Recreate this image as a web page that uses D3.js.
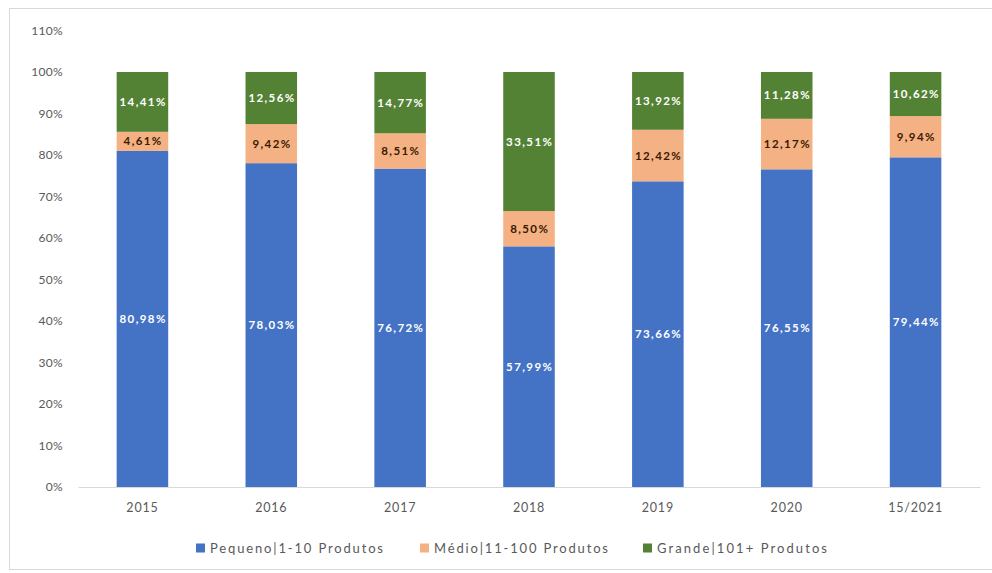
<!DOCTYPE html>
<html>
<head>
<meta charset="utf-8">
<script src="https://cdn.jsdelivr.net/npm/d3@7"></script>
<style>
  html, body { margin: 0; padding: 0; background: #fff; }
  svg { display: block; font-family: Lato, "Open Sans", sans-serif; }
</style>
</head>
<body>
<svg id="chart" width="992" height="573"></svg>
<script>
// Share of sellers by catalogue size, per year
const years = ["2015", "2016", "2017", "2018", "2019", "2020", "15/2021"];
const pequeno = [80.98, 78.03, 76.72, 57.99, 73.66, 76.55, 79.44];
const medio   = [4.61, 9.42, 8.51, 8.50, 12.42, 12.17, 9.94];
const grande  = [14.41, 12.56, 14.77, 33.51, 13.92, 11.28, 10.62];
const seriesNames = ["Pequeno|1-10 Produtos", "Médio|11-100 Produtos", "Grande|101+ Produtos"];
const yTicks = [0, 10, 20, 30, 40, 50, 60, 70, 80, 90, 100, 110];

const colors = ["#4472C4", "#F4B183", "#548235"];
const labelColors = ["#ffffff", "#3a1a00", "#ffffff"];

const rows = years.map((y, i) => ({ year: y, s0: pequeno[i], s1: medio[i], s2: grande[i] }));
const keys = ["s0", "s1", "s2"];
const stacked = d3.stack().keys(keys)(rows);

const svg = d3.select("#chart");

// outer frame
svg.append("rect")
  .attr("x", 9.5).attr("y", 8.5)
  .attr("width", 1000).attr("height", 561)
  .attr("fill", "none").attr("stroke", "#d9d9d9");

const x = d3.scaleBand().domain(years).range([78, 980]).paddingInner(0.6).paddingOuter(0.3);
const y = d3.scaleLinear().domain([0, 110]).range([487, 30.5]);

// y axis labels
const yAxis = svg.append("g").attr("transform", "translate(63,0)")
  .call(d3.axisLeft(y).tickValues(yTicks).tickFormat(d => d + "%").tickSize(0).tickPadding(0));
yAxis.select(".domain").remove();
yAxis.selectAll("text").attr("fill", "#595959").style("font-size", "12px")
  .style("letter-spacing", "0.3px")
  .style("font-family", "Lato, 'Open Sans', sans-serif");

// bars
const layer = svg.append("g").selectAll("g").data(stacked).join("g")
  .attr("fill", (d, i) => colors[i]);
layer.selectAll("rect").data(d => d).join("rect")
  .attr("x", d => x(d.data.year))
  .attr("width", x.bandwidth())
  .attr("y", d => y(d[1]))
  .attr("height", d => y(d[0]) - y(d[1]));

// value labels
const fmt = v => v.toFixed(2).replace(".", ",") + "%";
const lbl = svg.append("g").selectAll("g").data(stacked).join("g")
  .attr("fill", (d, i) => labelColors[i]);
lbl.selectAll("text").data(d => d.map(p => ({ p, key: d.key }))).join("text")
  .attr("x", d => x(d.p.data.year) + x.bandwidth() / 2 + 0.7)
  .attr("y", d => y((d.p[0] + d.p[1]) / 2))
  .attr("dy", "0.35em")
  .attr("text-anchor", "middle")
  .style("font-size", "11.5px")
  .style("font-weight", "bold")
  .style("letter-spacing", "1.4px")
  .text(d => fmt(d.p.data[d.key]));

// x axis
const xAxis = svg.append("g").attr("transform", "translate(0,487)")
  .call(d3.axisBottom(x).tickSize(0).tickPadding(16));
xAxis.select(".domain").attr("stroke", "#d9d9d9");
xAxis.selectAll("text").attr("fill", "#595959").style("font-size", "12.5px")
  .style("letter-spacing", "0.8px")
  .style("font-family", "Lato, 'Open Sans', sans-serif");

// legend
const legendX = [196, 420, 643];
const legendW = [173, 174, 170];
const legend = svg.append("g").selectAll("g").data(seriesNames).join("g")
  .attr("transform", (d, i) => `translate(${legendX[i]},548)`);
legend.append("rect").attr("x", 0).attr("y", -4.5).attr("width", 9).attr("height", 9)
  .attr("fill", (d, i) => colors[i]);
legend.append("text").attr("x", 14).attr("dy", "0.35em")
  .attr("fill", "#595959").style("font-size", "13px")
  .attr("textLength", (d, i) => legendW[i])
  .attr("lengthAdjust", "spacing")
  .text(d => d);
</script>
</body>
</html>
